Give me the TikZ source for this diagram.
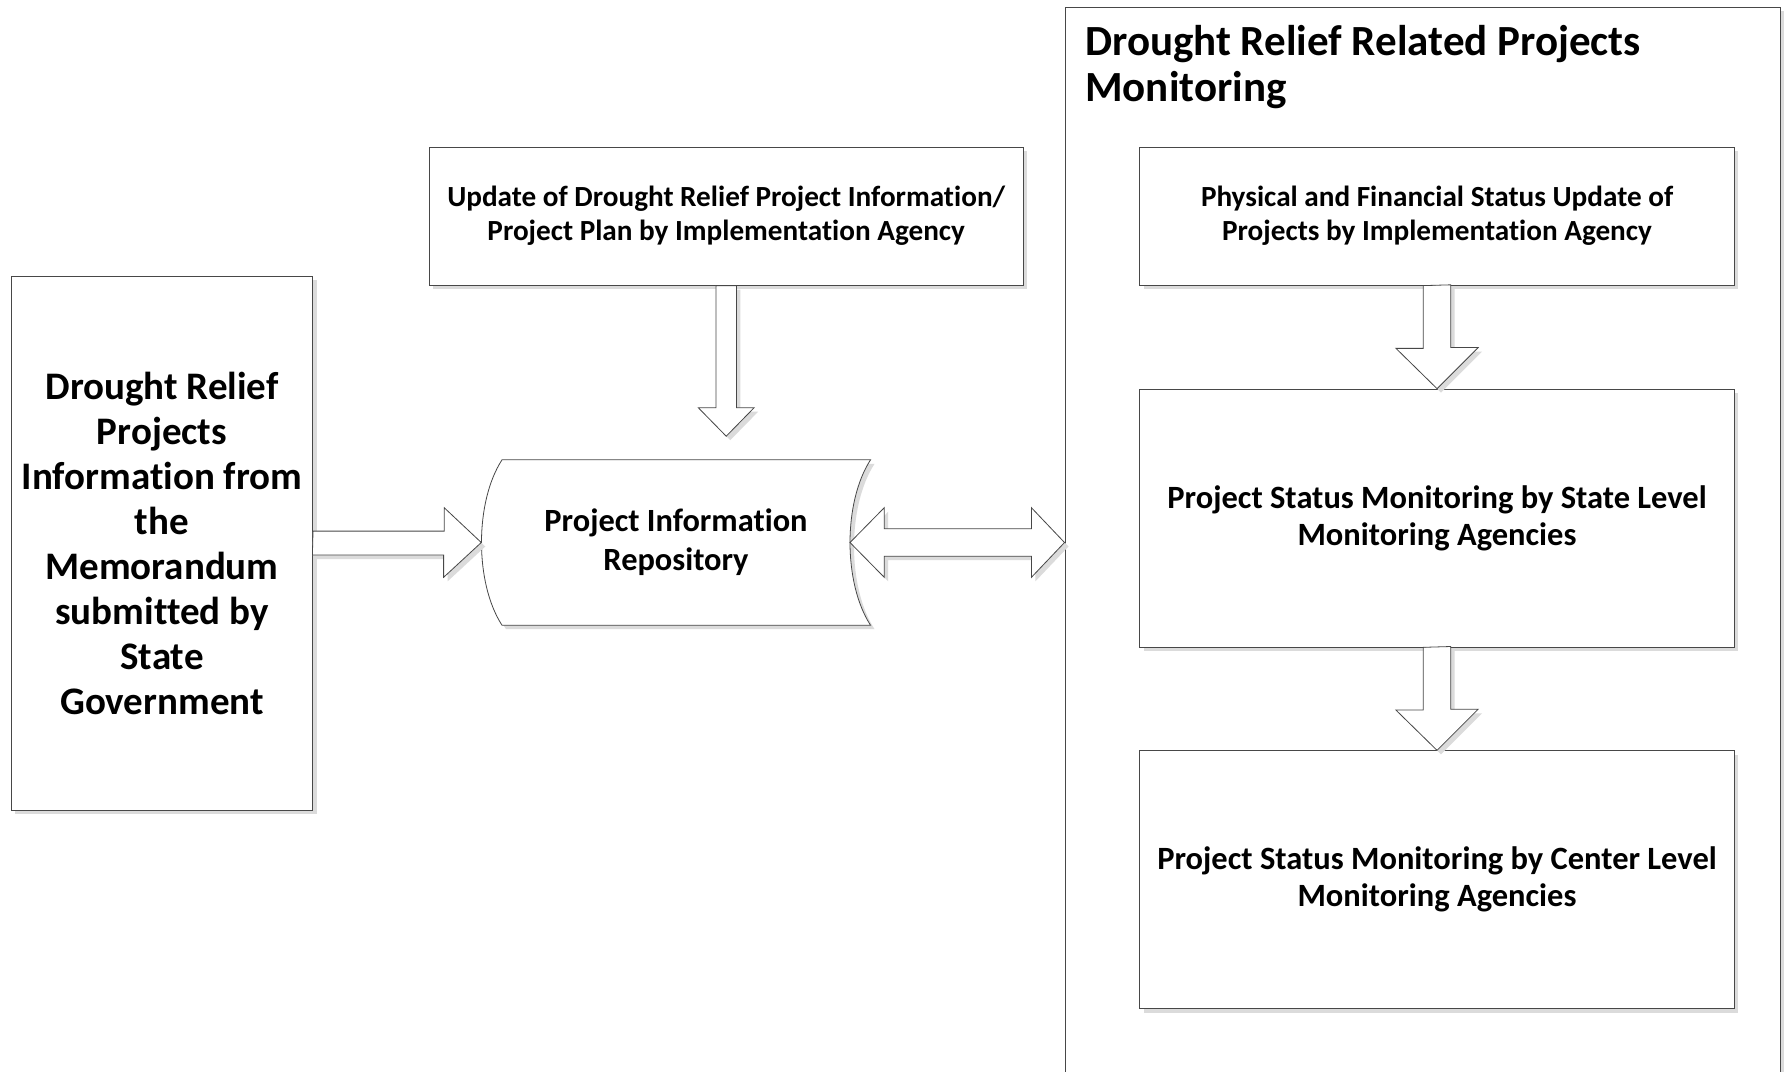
\documentclass[tikz,border=0pt]{standalone}
\usepackage{fontspec}
\setmainfont{Carlito}[Ligatures=NoCommon]
\usetikzlibrary{calc,shadows}
\begin{document}
\begin{tikzpicture}[x=1.141pt,y=-1.141pt,
  shad/.style={drop shadow={shadow xshift=4pt,shadow yshift=-4pt,fill=black!14,opacity=1}},
  line/.style={draw=black!72,line width=0.8pt},
  box/.style={line,fill=white,shad,rectangle,inner sep=0pt,align=center},
  blockarrow/.style={line,fill=white,shad,line join=miter},
  ftitle/.style={font=\fontsize{43pt}{45.6pt}\selectfont\bfseries},
  fbig/.style={font=\fontsize{39pt}{45pt}\selectfont\bfseries},
  fmid/.style={font=\fontsize{32.5pt}{37pt}\selectfont\bfseries},
  fsmall/.style={font=\fontsize{29.2pt}{34pt}\selectfont\bfseries},
  frepo/.style={font=\fontsize{32.4pt}{39pt}\selectfont\bfseries}]
\useasboundingbox[fill=white] (0,0) rectangle (1568,939);
% container
\node[box,anchor=north west,minimum width=715.4pt,minimum height=1089pt] (mon) at (933,6) {};
\node[ftitle,anchor=west,align=left,inner sep=0pt] (montitle) at (951,59) {Drought Relief Related Projects\\Monitoring};
% boxes
\node[box,fbig,minimum width=301.2pt,minimum height=534pt] (memo) at (142,476)
  {Drought Relief\\Projects\\Information from\\the\\Memorandum\\submitted by\\State\\Government};
\node[box,fsmall,minimum width=594.5pt,minimum height=138pt] (upd) at (636.5,189.5)
  {Update of Drought Relief Project Information/\\Project Plan by Implementation Agency};
\node[box,fsmall,minimum width=594.5pt,minimum height=138pt] (r1) at (1259.5,189.5)
  {Physical and Financial Status Update of\\Projects by Implementation Agency};
\node[box,fmid,minimum width=594.5pt,minimum height=257.9pt] (r2) at (1259.5,454)
  {Project Status Monitoring by State Level\\Monitoring Agencies};
\node[box,fmid,minimum width=594.5pt,minimum height=257.9pt] (r3) at (1259.5,771)
  {Project Status Monitoring by Center Level\\Monitoring Agencies};
% repository
\node[inner sep=0pt,minimum width=389.1pt,minimum height=165.4pt] (repo) at (592.5,475.5) {};
\path[line,fill=white,shad] (440,403) -- (763,403) .. controls (739,440) and (739,511) .. (763,548)
  -- (440,548) .. controls (416,511) and (416,440) .. (440,403) -- cycle;
\node[frepo,align=center] (repotext) at (592.5,475.5) {Project Information\\Repository};
\coordinate (rmid) at (745,475.5);
% block arrows
\path[blockarrow] ($(upd.south)+(-9,0)$) -- ++(0,107) -- ++(-15.5,0) -- ++(24.5,25) -- ++(24.5,-25) -- ++(-15.5,0) -- ++(0,-107) -- cycle;
\path[blockarrow] ($(memo.east)+(0,-10.5)$) -- ++(115,0) -- ++(0,-20.5) -- (repo.west) -- ++(-33,30.5) -- ++(0,-19.5) -- ++(-115,0) -- cycle;
\path[blockarrow] (rmid) -- ++(30,-30.5) -- ++(0,18.5) -- ++(129,0) -- ++(0,-18.5) -- (mon.west |- rmid) -- ++(-29,30.5) -- ++(0,-18.5) -- ++(-129,0) -- ++(0,18.5) -- cycle;
\path[blockarrow] ($(r1.south)+(-12,0)$) -- ++(0,55) -- ++(-24,0) -- (r2.north) -- ++(36,-36) -- ++(-24,0) -- ++(0,-55) -- cycle;
\path[blockarrow] ($(r2.south)+(-12,0)$) -- ++(0,55) -- ++(-24,0) -- (r3.north) -- ++(36,-36) -- ++(-24,0) -- ++(0,-55) -- cycle;
\end{tikzpicture}
\end{document}
